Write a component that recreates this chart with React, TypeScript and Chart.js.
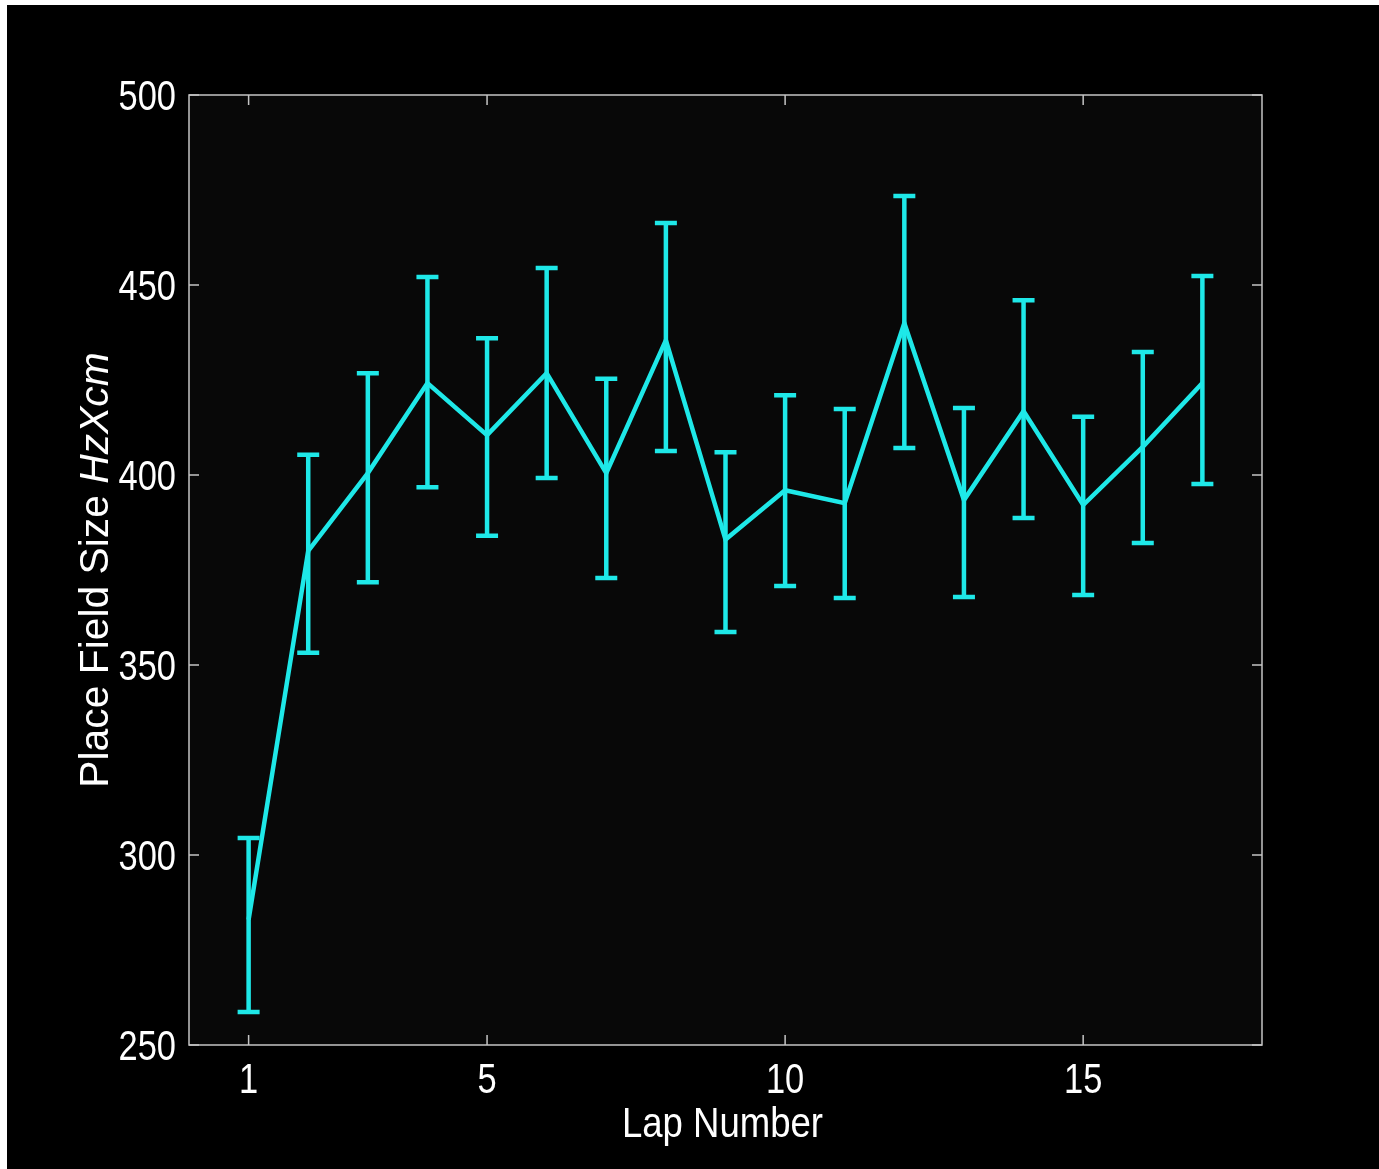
import React, { useEffect, useRef } from "react";
import { Chart, registerables } from "chart.js";

Chart.register(...registerables);

const laps = [1, 2, 3, 4, 5, 6, 7, 8, 9, 10, 11, 12, 13, 14, 15, 16, 17];
const means = [283, 380, 400.5, 424.2, 410.5, 426.8, 400.5, 435.5, 383, 396, 392.6, 440, 393.4, 416.8, 392.1, 407.4, 424.2];
const upper = [304.5, 405.3, 426.8, 452.1, 436, 454.5, 425.3, 466.3, 406, 421, 417.4, 473.4, 417.6, 446, 415.3, 432.4, 452.4];
const lower = [258.7, 353.2, 371.8, 396.8, 384, 399.2, 372.9, 406.3, 358.7, 370.8, 367.6, 407.1, 367.9, 388.7, 368.4, 382.1, 397.6];
const xTicks = [1, 5, 10, 15];
const yTicks = [250, 300, 350, 400, 450, 500];
const xTitle = "Lap Number";
const yTitleNormal = "Place Field Size ";
const yTitleItalic = "HzXcm";

const W = 1372;
const H = 1164;
const FONT = "'Liberation Sans', Arial, sans-serif";
const CYAN = "#1ee8e8";
const AXIS = "#c4c4c4";

function narrowText(ctx: any, text: string, x: number, y: number, align: string, size: number, sx: number, italic = false) {
  ctx.save();
  ctx.translate(x, y);
  ctx.scale(sx, 1);
  ctx.font = `${italic ? "italic " : ""}${size}px ${FONT}`;
  ctx.textAlign = align;
  ctx.textBaseline = "alphabetic";
  ctx.fillText(text, 0, 0);
  ctx.restore();
}

function measure(ctx: any, text: string, size: number, sx: number, italic = false) {
  ctx.save();
  ctx.font = `${italic ? "italic " : ""}${size}px ${FONT}`;
  const w = ctx.measureText(text).width * sx;
  ctx.restore();
  return w;
}

const framePlugin = {
  id: "frame",
  beforeDatasetsDraw(chart: any) {
    const { ctx, chartArea: a } = chart;
    ctx.save();
    ctx.fillStyle = "#080808";
    ctx.fillRect(a.left, a.top, a.right - a.left, a.bottom - a.top);
    ctx.restore();
  },
  afterDatasetsDraw(chart: any) {
    const { ctx, chartArea: a, scales } = chart;
    const xs = scales.x;
    const ys = scales.y;
    ctx.save();
    // error bars
    ctx.strokeStyle = CYAN;
    ctx.lineWidth = 4.5;
    ctx.lineCap = "butt";
    const cap = 11;
    laps.forEach((lap, i) => {
      const px = xs.getPixelForValue(lap);
      const pu = ys.getPixelForValue(upper[i]);
      const pl = ys.getPixelForValue(lower[i]);
      ctx.beginPath();
      ctx.moveTo(px, pu);
      ctx.lineTo(px, pl);
      ctx.moveTo(px - cap, pu);
      ctx.lineTo(px + cap, pu);
      ctx.moveTo(px - cap, pl);
      ctx.lineTo(px + cap, pl);
      ctx.stroke();
    });
    // box
    ctx.strokeStyle = AXIS;
    ctx.lineWidth = 1.5;
    ctx.strokeRect(a.left, a.top, a.right - a.left, a.bottom - a.top);
    // inward ticks
    const tl = 10;
    ctx.beginPath();
    xTicks.forEach((v) => {
      const px = xs.getPixelForValue(v);
      ctx.moveTo(px, a.bottom);
      ctx.lineTo(px, a.bottom - tl);
      ctx.moveTo(px, a.top);
      ctx.lineTo(px, a.top + tl);
    });
    yTicks.forEach((v) => {
      const py = ys.getPixelForValue(v);
      ctx.moveTo(a.left, py);
      ctx.lineTo(a.left + tl, py);
      ctx.moveTo(a.right, py);
      ctx.lineTo(a.right - tl, py);
    });
    ctx.stroke();
    // tick labels
    ctx.fillStyle = "#ffffff";
    xTicks.forEach((v) => {
      narrowText(ctx, String(v), xs.getPixelForValue(v), a.bottom + 48, "center", 42, 0.82);
    });
    yTicks.forEach((v) => {
      narrowText(ctx, String(v), a.left - 13, ys.getPixelForValue(v) + 15, "right", 42, 0.82);
    });
    // x title
    narrowText(ctx, xTitle, (a.left + a.right) / 2 - 3, 1132, "center", 42, 0.87);
    // y title (mixed style)
    ctx.save();
    ctx.translate(101, (a.top + a.bottom) / 2);
    ctx.rotate(-Math.PI / 2);
    const ys2 = 40;
    const sx2 = 1.02;
    const w1 = measure(ctx, yTitleNormal, ys2, sx2);
    const w2 = measure(ctx, yTitleItalic, ys2, sx2, true);
    const start = -(w1 + w2) / 2;
    narrowText(ctx, yTitleNormal, start, 0, "left", ys2, sx2);
    narrowText(ctx, yTitleItalic, start + w1, 0, "left", ys2, sx2, true);
    ctx.restore();
    ctx.restore();
  },
};

export default function App() {
  const ref = useRef<HTMLCanvasElement>(null);
  useEffect(() => {
    if (!ref.current) return;
    const chart = new Chart(ref.current, {
      type: "line",
      data: {
        datasets: [
          {
            data: laps.map((x, i) => ({ x, y: means[i] })),
            borderColor: CYAN,
            borderWidth: 4.5,
            pointRadius: 0,
            tension: 0,
            fill: false,
          },
        ],
      },
      options: {
        animation: false,
        responsive: false,
        events: [],
        layout: { padding: { top: 90, right: 117, left: 0, bottom: 0 } },
        plugins: { legend: { display: false }, tooltip: { enabled: false } },
        scales: {
          x: {
            type: "linear",
            min: 0,
            max: 18,
            afterBuildTicks: (s: any) => {
              s.ticks = xTicks.map((v) => ({ value: v }));
            },
            afterFit: (s: any) => {
              s.height = 124;
            },
            grid: { display: false },
            border: { display: false },
            ticks: { display: false },
          },
          y: {
            type: "linear",
            min: 250,
            max: 500,
            afterBuildTicks: (s: any) => {
              s.ticks = yTicks.map((v) => ({ value: v }));
            },
            afterFit: (s: any) => {
              s.width = 182;
            },
            grid: { display: false },
            border: { display: false },
            ticks: { display: false },
          },
        },
      },
      plugins: [framePlugin],
    });
    return () => chart.destroy();
  }, []);
  return (
    <div style={{ position: "absolute", left: 7, top: 5, width: W, height: H, background: "#000" }}>
      <canvas ref={ref} width={W} height={H} style={{ display: "block", width: W, height: H }} />
    </div>
  );
}
